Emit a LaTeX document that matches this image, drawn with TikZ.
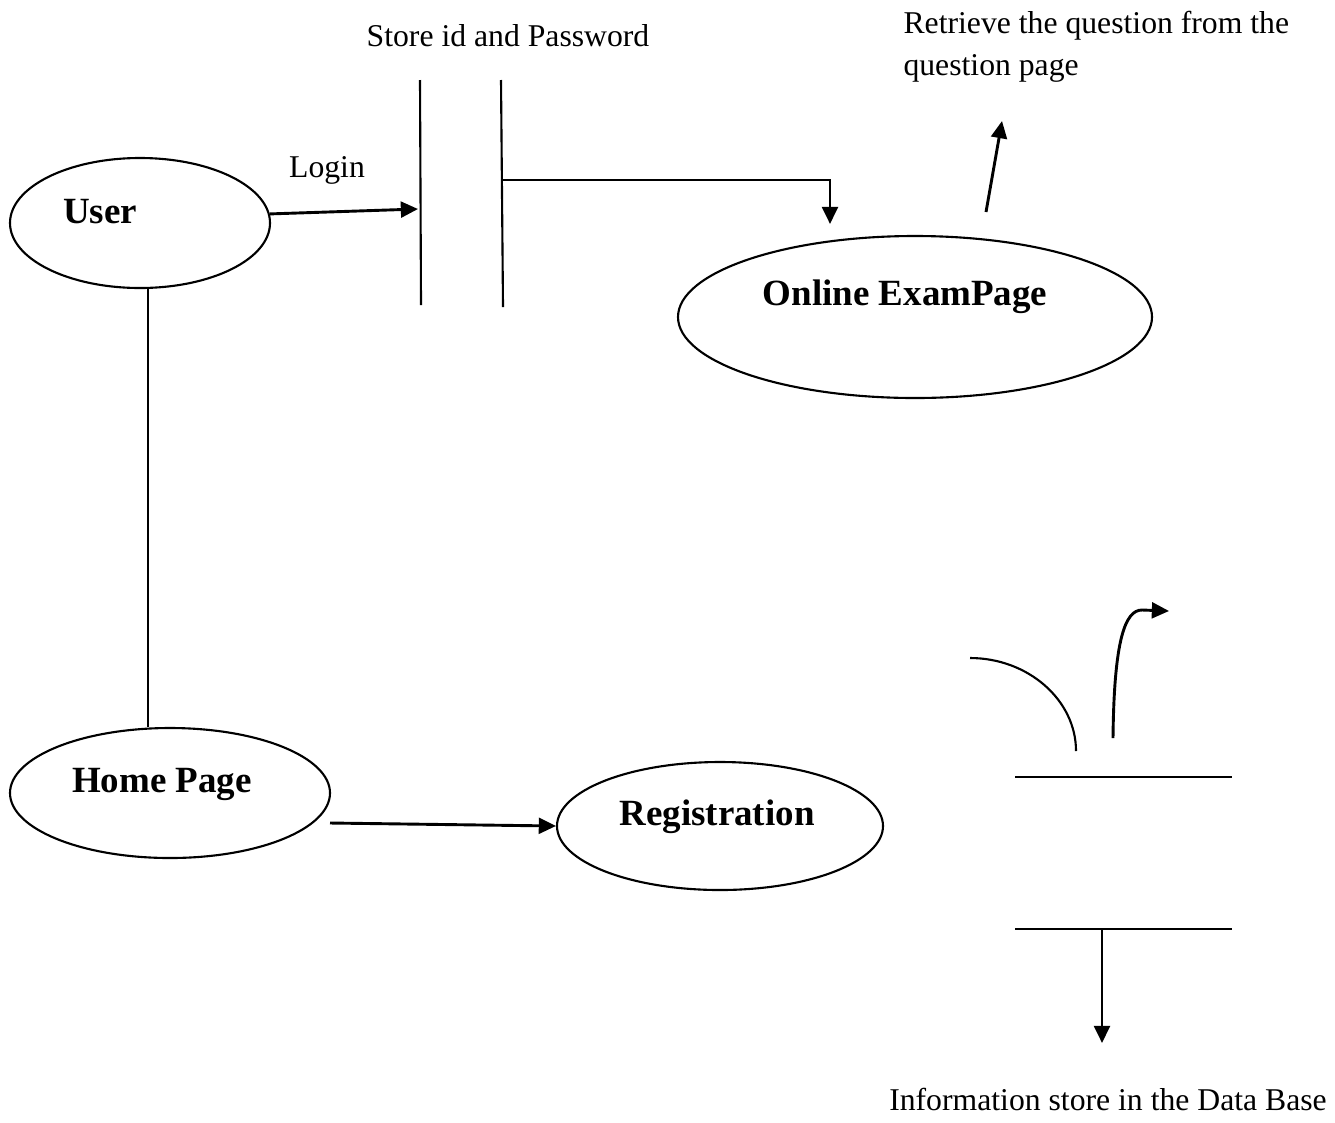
\documentclass[tikz,border=0pt]{standalone}
\usepackage{fontspec}
\setmainfont{Liberation Serif}
\usetikzlibrary{arrows.meta,shapes.geometric}
\newlength\pu
\setlength\pu{0.0133cm}

\begin{document}
\begin{tikzpicture}[
                x=0.0133cm, y=-0.0133cm,
                proc/.style={
                        draw, ellipse,
                        line width=0.8pt,
                        inner sep=0pt
                    },
                proctext/.style={anchor=base, font=\fontsize{14}{17}\selectfont\bfseries},
                note/.style={anchor=base, font=\fontsize{12}{14}\selectfont},
                flow/.style={-{Triangle[length=6.5pt,width=6pt]}, line width=1.1pt},
                store/.style={line width=0.8pt}
            ]
            \useasboundingbox (0,0) rectangle (1335,1122);

            % Procesos
            \node[proc, minimum width=260\pu, minimum height=130\pu] (user) at (140,223) {};
            \node[proctext] (userlabel) at (100,223) {User};
            \node[proc, minimum width=320\pu, minimum height=130\pu] (home) at (170,793) {};
            \node[proctext] (homelabel) at (162,792) {Home Page};
            \node[proc, minimum width=326\pu, minimum height=128\pu] (reg) at (720,826) {};
            \node[proctext] (reglabel) at (717,825) {Registration};
            \node[proc, minimum width=474\pu, minimum height=162\pu] (exam) at (915,317) {};
            \node[proctext] (examlabel) at (905,305) {Online ExamPage};

            % Textos
            \node[note] (storelabel) at (508,46) {Store id and Password};
            \node[note, anchor=base west, inner xsep=0pt] (retrieve1) at (903,33) {Retrieve the question from the};
            \node[note, anchor=base west, inner xsep=0pt] (retrieve2) at (903,75) {question page};
            \node[note] (loginlabel) at (327,177) {Login};
            \node[note] (dblabel) at (1108,1110) {Information store in the Data Base};

            % Almacen de login
            \coordinate (s1a) at (420,80);
            \coordinate (s1b) at (421,305);
            \coordinate (s2a) at (501,80);
            \coordinate (s2b) at (503,307);
            \draw[store] (s1a) -- (s1b);
            \draw[store] (s2a) -- (s2b);

            % Almacen de datos
            \coordinate (d1a) at (1015,777);
            \coordinate (d1b) at (1232,777);
            \coordinate (d2a) at (1015,929);
            \coordinate (d2b) at (1232,929);
            \draw[store] (d1a) -- (d1b);
            \draw[store] (d2a) -- (d2b);

            % Flujos
            \coordinate (loginin) at (418,209);
            \coordinate (examfrom) at (503,180);
            \coordinate (examin) at (830,224);
            \coordinate (qfrom) at (986,212);
            \coordinate (qto) at (1002,121);
            \coordinate (hpout) at (330,823);
            \coordinate (dbfrom) at (1102,929);
            \coordinate (dbto) at (1102,1043);

            \draw[store] ([xshift=8\pu]user.south) -- ([xshift=-22\pu]home.north);
            \draw[flow] (user.4) -- (loginin);
            \draw[flow] (examfrom) -| (examin);
            \draw[flow] (qfrom) -- (qto);
            \draw[flow] (hpout) -- (reg.west);
            \draw[flow] (dbfrom) -- (dbto);

            % Curvas sobre el almacen
            \draw[store] (970,658) .. controls (1028,658) and (1076,700) .. (1076,751);
            \draw[flow] (1113,738) .. controls (1114,640) and (1125,610) .. (1142,610) -- (1169,611);

        \end{tikzpicture}
\end{document}
